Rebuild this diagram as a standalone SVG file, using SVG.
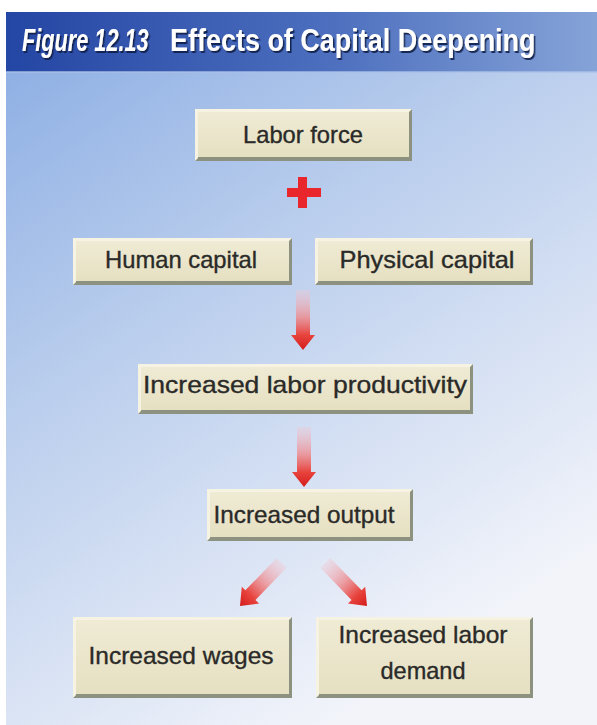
<svg xmlns="http://www.w3.org/2000/svg" width="597" height="725" viewBox="0 0 597 725">
  <defs>
    <linearGradient id="bg" x1="0" y1="0" x2="0.55" y2="1">
      <stop offset="0" stop-color="#88abe3"/>
      <stop offset="0.4" stop-color="#b6cbec"/>
      <stop offset="1" stop-color="#f2f4fa"/>
    </linearGradient>
    <linearGradient id="titleBar" x1="0" y1="0" x2="1" y2="0">
      <stop offset="0" stop-color="#2446a4"/>
      <stop offset="0.55" stop-color="#4d6fbe"/>
      <stop offset="1" stop-color="#86a3d8"/>
    </linearGradient>
    <linearGradient id="beige" x1="0" y1="0" x2="0" y2="1">
      <stop offset="0" stop-color="#efebd4"/>
      <stop offset="1" stop-color="#e6e0c2"/>
    </linearGradient>
    <linearGradient id="arrowFill" x1="0" y1="0" x2="0" y2="1">
      <stop offset="0" stop-color="#f2c8d2" stop-opacity="0.35"/>
      <stop offset="0.45" stop-color="#ec8e92" stop-opacity="0.85"/>
      <stop offset="0.75" stop-color="#e8443e"/>
      <stop offset="1" stop-color="#d41c1c"/>
    </linearGradient>
    <filter id="titleShadow" x="-5%" y="-20%" width="110%" height="150%">
      <feDropShadow dx="1.5" dy="2" stdDeviation="0.6" flood-color="#0c1a48" flood-opacity="0.9"/>
    </filter>
    <!-- arrow pointing down, tip at the origin -->
    <path id="arrow" d="M -7,-60 L 7,-60 L 7,-15 L 12,-15 L 0,0 L -12,-15 L -7,-15 Z" fill="url(#arrowFill)"/>
  </defs>
  <style>
    .edge { fill: #8d917f; }
    .light { fill: #f6f3e3; }
    .face { fill: url(#beige); }
    .label { font-family: "Liberation Sans", Arial, sans-serif; font-size: 24px; fill: #2a2a28; stroke: #2a2a28; stroke-width: 0.35; text-anchor: middle; }
    .title { font-family: "Liberation Sans", Arial, sans-serif; font-weight: bold; font-size: 31px; fill: #ffffff; }
  </style>

  <!-- page background -->
  <rect x="0" y="0" width="597" height="725" fill="#ffffff"/>
  <rect x="6" y="12" width="591" height="713" fill="url(#bg)"/>

  <!-- title bar -->
  <g id="title">
    <rect x="6" y="12" width="591" height="60" fill="url(#titleBar)"/>
    <rect x="6" y="71" width="591" height="2" fill="#a9c0e8" opacity="0.7"/>
    <g filter="url(#titleShadow)">
      <text class="title" font-style="italic" transform="translate(22,51) scale(0.7,1)">Figure 12.13</text>
      <text class="title" transform="translate(170,51) scale(0.87,1)">Effects of Capital Deepening</text>
    </g>
  </g>

  <!-- connectors -->
  <g id="connectors">
    <g id="plus" fill="#e8262c">
      <rect x="298" y="177" width="9" height="31"/>
      <rect x="287" y="188" width="34" height="9"/>
    </g>
    <use href="#arrow" transform="translate(303,350)"/>
    <use href="#arrow" transform="translate(304,487)"/>
    <use href="#arrow" transform="translate(240,606) rotate(44)"/>
    <use href="#arrow" transform="translate(367,606) rotate(-44)"/>
  </g>

  <!-- nodes -->
  <g id="labor-force">
    <rect class="edge" x="195" y="109" width="217" height="52"/>
    <polygon class="light" points="195,109 412,109 409,112 198,112 198,158 195,161"/>
    <rect class="face" x="198" y="112" width="211" height="45"/>
    <text class="label" x="303" y="143" textLength="120" lengthAdjust="spacingAndGlyphs">Labor force</text>
  </g>

  <g id="human-capital">
    <rect class="edge" x="73" y="238" width="219" height="47"/>
    <polygon class="light" points="73,238 292,238 289,241 76,241 76,282 73,285"/>
    <rect class="face" x="76" y="241" width="213" height="40"/>
    <text class="label" x="181" y="268" textLength="152" lengthAdjust="spacingAndGlyphs">Human capital</text>
  </g>

  <g id="physical-capital">
    <rect class="edge" x="315" y="238" width="218" height="47"/>
    <polygon class="light" points="315,238 533,238 530,241 318,241 318,282 315,285"/>
    <rect class="face" x="318" y="241" width="212" height="40"/>
    <text class="label" x="427" y="268" textLength="175" lengthAdjust="spacingAndGlyphs">Physical capital</text>
  </g>

  <g id="labor-productivity">
    <rect class="edge" x="138" y="364" width="335" height="50"/>
    <polygon class="light" points="138,364 473,364 470,367 141,367 141,411 138,414"/>
    <rect class="face" x="141" y="367" width="329" height="43"/>
    <text class="label" x="305" y="393" textLength="324" lengthAdjust="spacingAndGlyphs">Increased labor productivity</text>
  </g>

  <g id="output">
    <rect class="edge" x="207" y="489" width="206" height="52"/>
    <polygon class="light" points="207,489 413,489 410,492 210,492 210,538 207,541"/>
    <rect class="face" x="210" y="492" width="200" height="45"/>
    <text class="label" x="304" y="523" textLength="181" lengthAdjust="spacingAndGlyphs">Increased output</text>
  </g>

  <g id="wages">
    <rect class="edge" x="73" y="617" width="219" height="81"/>
    <polygon class="light" points="73,617 292,617 289,620 76,620 76,695 73,698"/>
    <rect class="face" x="76" y="620" width="213" height="74"/>
    <text class="label" x="181" y="664" textLength="185" lengthAdjust="spacingAndGlyphs">Increased wages</text>
  </g>

  <g id="labor-demand">
    <rect class="edge" x="316" y="617" width="217" height="81"/>
    <polygon class="light" points="316,617 533,617 530,620 319,620 319,695 316,698"/>
    <rect class="face" x="319" y="620" width="211" height="74"/>
    <text class="label" x="423" y="643" textLength="169" lengthAdjust="spacingAndGlyphs">Increased labor</text>
    <text class="label" x="423" y="679" textLength="85" lengthAdjust="spacingAndGlyphs">demand</text>
  </g>
</svg>
